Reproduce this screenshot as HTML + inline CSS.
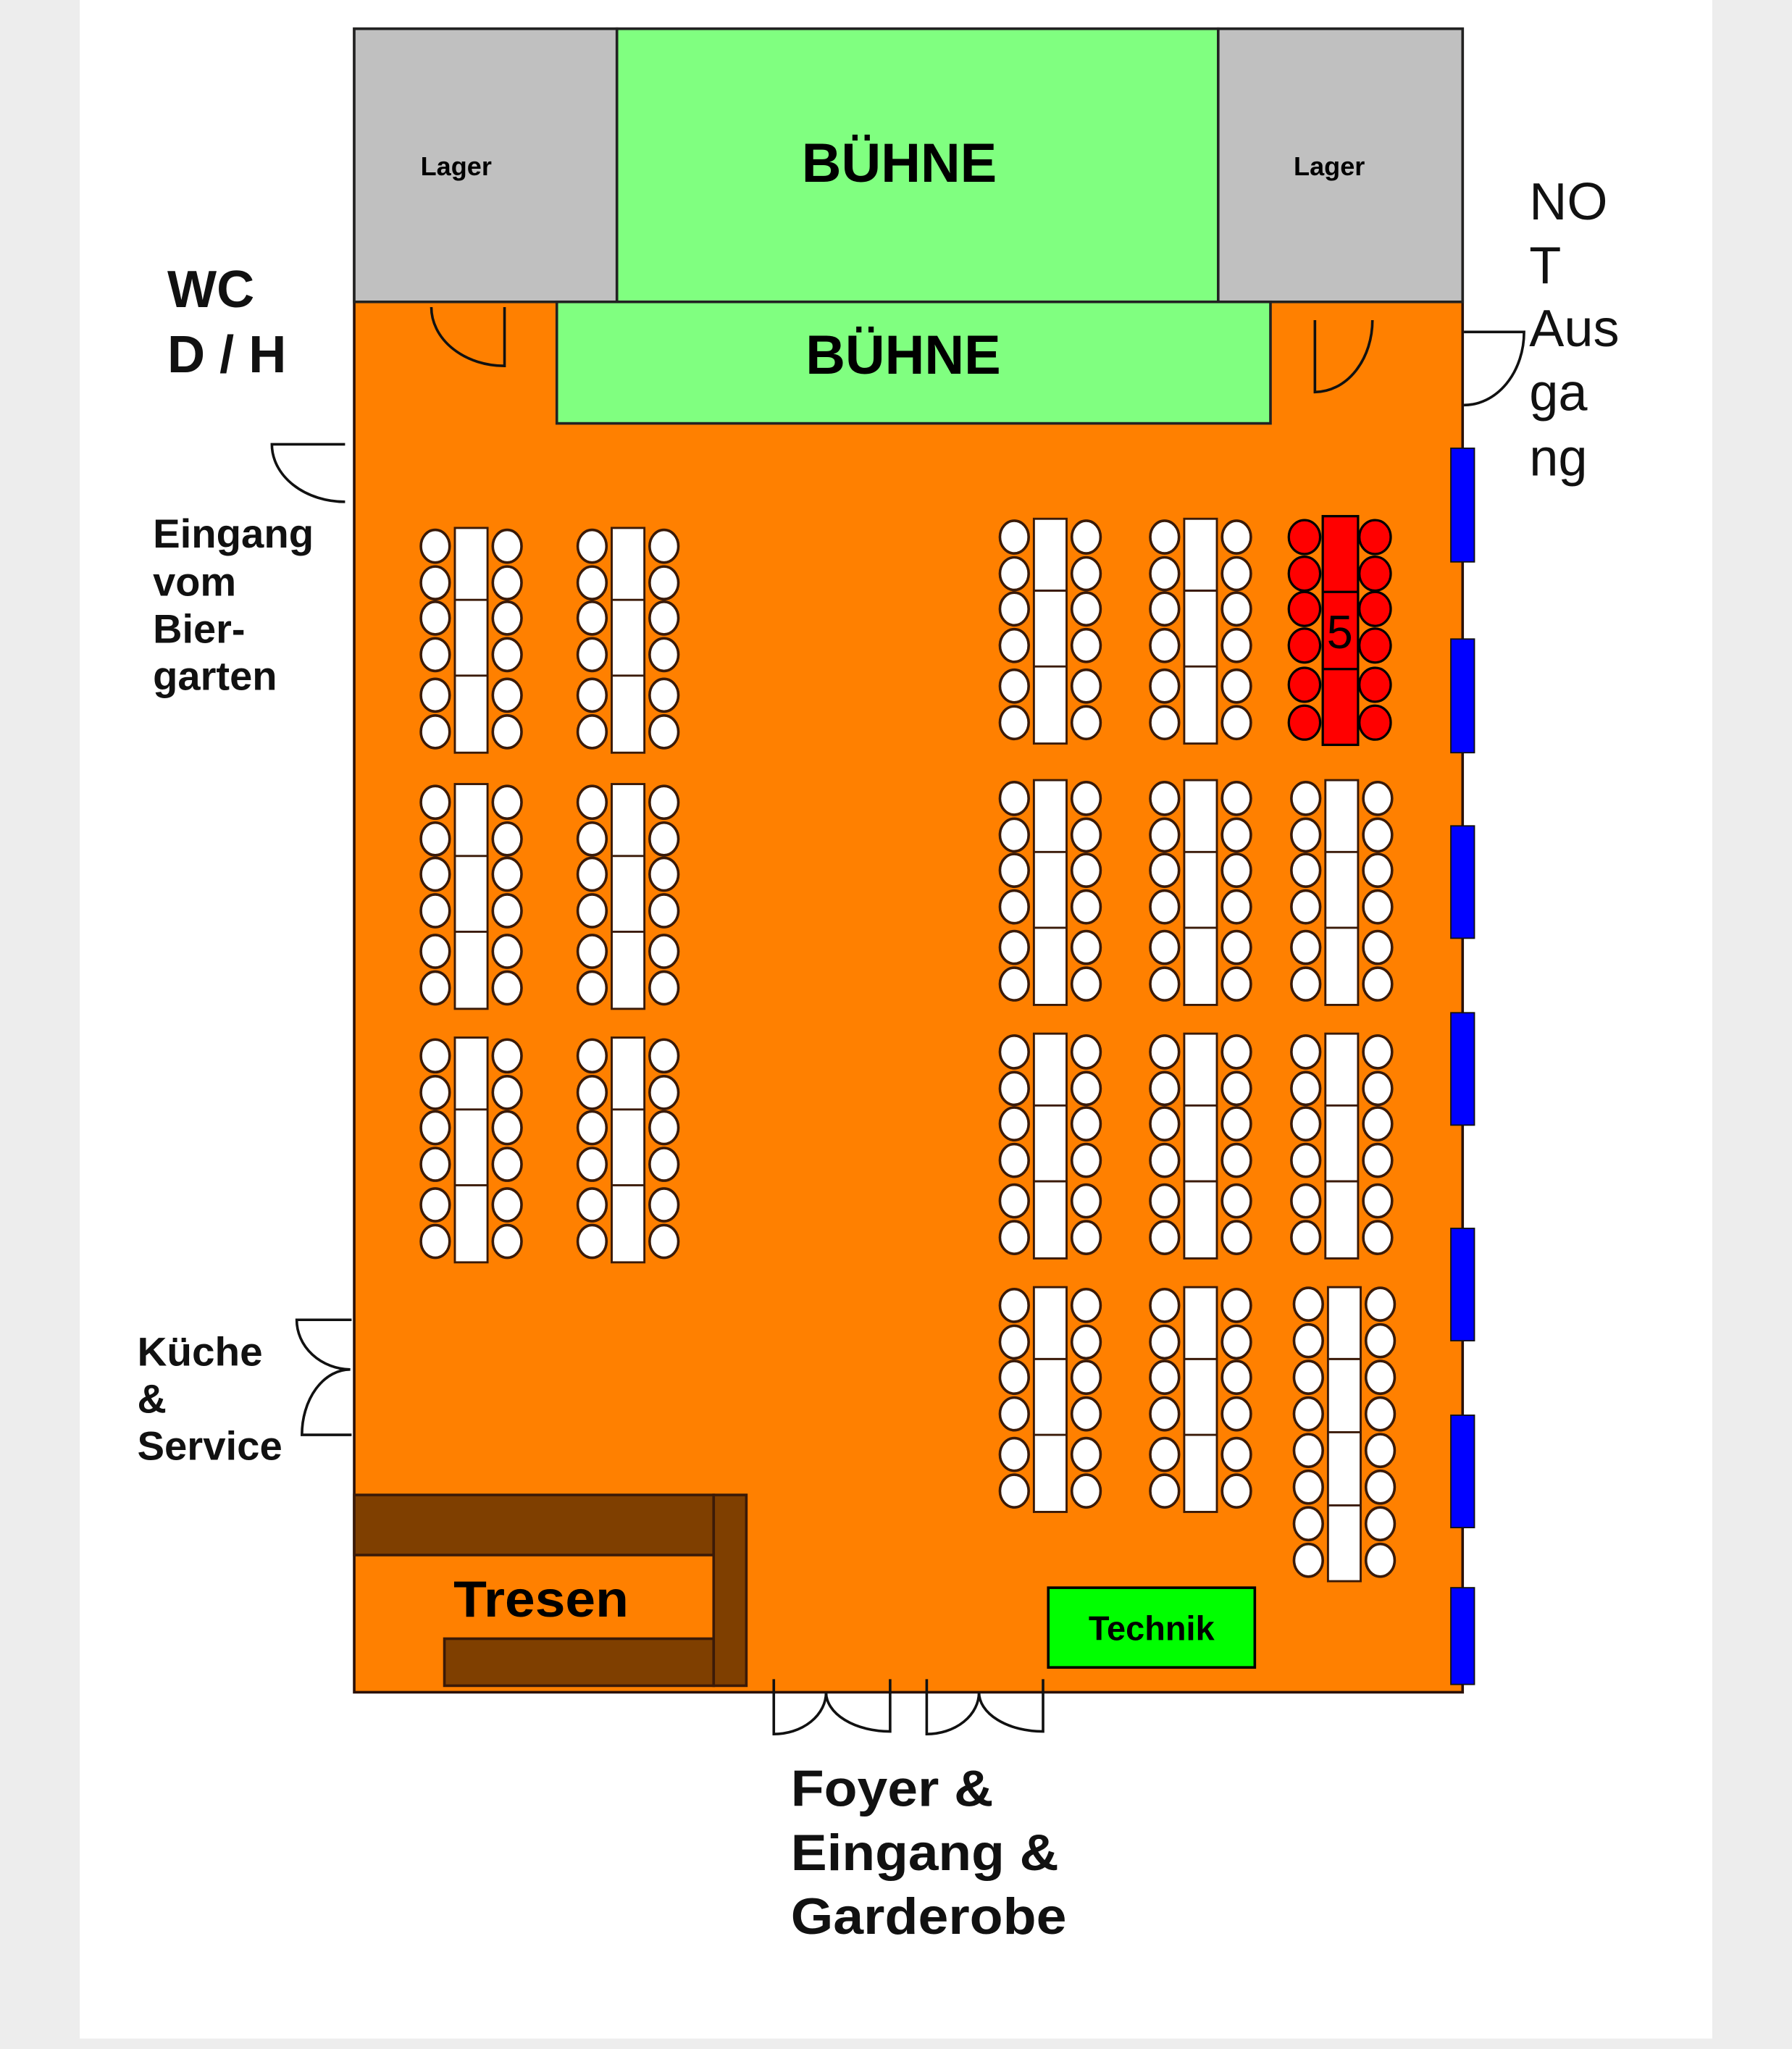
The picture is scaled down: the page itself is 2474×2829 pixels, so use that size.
<!DOCTYPE html>
<html><head><meta charset="utf-8"><style>
html,body{margin:0;padding:0;background:#fff}
svg{display:block}
text{font-family:"Liberation Sans",Arial,sans-serif}
</style></head><body>
<svg width="2474" height="2829" viewBox="0 0 1371 1568" preserveAspectRatio="none" xmlns="http://www.w3.org/2000/svg">
<defs>
<g id="t6">
  <rect x="15" y="0" width="25" height="172" fill="#fff" stroke="#3a1a08" stroke-width="1.6"/>
  <line x1="15" y1="55" x2="40" y2="55" stroke="#3a1a08" stroke-width="1.6"/>
  <line x1="15" y1="113" x2="40" y2="113" stroke="#3a1a08" stroke-width="1.6"/>
  <g fill="#fff" stroke="#3a1a08" stroke-width="2">
    <ellipse cx="0" cy="14" rx="11" ry="12.5"/><ellipse cx="55" cy="14" rx="11" ry="12.5"/>
    <ellipse cx="0" cy="42" rx="11" ry="12.5"/><ellipse cx="55" cy="42" rx="11" ry="12.5"/>
    <ellipse cx="0" cy="69" rx="11" ry="12.5"/><ellipse cx="55" cy="69" rx="11" ry="12.5"/>
    <ellipse cx="0" cy="97" rx="11" ry="12.5"/><ellipse cx="55" cy="97" rx="11" ry="12.5"/>
    <ellipse cx="0" cy="128" rx="11" ry="12.5"/><ellipse cx="55" cy="128" rx="11" ry="12.5"/>
    <ellipse cx="0" cy="156" rx="11" ry="12.5"/><ellipse cx="55" cy="156" rx="11" ry="12.5"/>
  </g>
</g>
</defs>
<rect x="0" y="0" width="1371" height="1568" fill="#ededed"/>
<rect x="61" y="0" width="1249" height="1560" fill="#fff"/>

<rect x="271" y="22" width="848" height="1273" fill="#ff8000" stroke="#2a1008" stroke-width="2"/>
<rect x="271" y="22" width="201" height="209" fill="#c0c0c0" stroke="#222" stroke-width="2"/>
<rect x="472" y="22" width="460" height="209" fill="#80ff80" stroke="#222" stroke-width="2"/>
<rect x="932" y="22" width="187" height="209" fill="#c0c0c0" stroke="#222" stroke-width="2"/>
<rect x="426" y="231" width="546" height="93" fill="#80ff80" stroke="#222" stroke-width="2"/>
<text x="688" y="139" font-size="42" font-weight="bold" text-anchor="middle">BÜHNE</text>
<text x="691" y="286" font-size="42" font-weight="bold" text-anchor="middle">BÜHNE</text>
<text x="349" y="134" font-size="20" font-weight="bold" text-anchor="middle">Lager</text>
<text x="1017" y="134" font-size="20" font-weight="bold" text-anchor="middle">Lager</text>

<g fill="none" stroke="#111" stroke-width="2">
  <path d="M386 235 V280 A56 45 0 0 1 330 235"/>
  <path d="M1006 245 V300 A44 55 0 0 0 1050 245"/>
  <path d="M1120 254 H1166 A46 56 0 0 1 1120 310"/>
  <path d="M264 340 H208 A56 44 0 0 0 264 384"/>
  <path d="M269 1010 H227 A42 38 0 0 0 268 1048 A37 50 0 0 0 231 1098 H269"/>
  <path d="M592 1285 V1327 A40 32 0 0 0 632 1295 A49 30 0 0 0 681 1325 V1285"/>
  <path d="M709 1285 V1327 A40 32 0 0 0 749 1295 A49 30 0 0 0 798 1325 V1285"/>
</g>

<g fill="#0000ff" stroke="#111" stroke-width="1">
  <rect x="1110" y="343" width="18" height="87"/>
  <rect x="1110" y="489" width="18" height="87"/>
  <rect x="1110" y="632" width="18" height="86"/>
  <rect x="1110" y="775" width="18" height="86"/>
  <rect x="1110" y="940" width="18" height="86"/>
  <rect x="1110" y="1083" width="18" height="86"/>
  <rect x="1110" y="1215" width="18" height="74"/>
</g>

<use href="#t6" transform="translate(333,404)"/>
<use href="#t6" transform="translate(453,404)"/>
<use href="#t6" transform="translate(333,600)"/>
<use href="#t6" transform="translate(453,600)"/>
<use href="#t6" transform="translate(333,794)"/>
<use href="#t6" transform="translate(453,794)"/>
<use href="#t6" transform="translate(776,397)"/>
<use href="#t6" transform="translate(891,397)"/>
<use href="#t6" transform="translate(776,597)"/>
<use href="#t6" transform="translate(891,597)"/>
<use href="#t6" transform="translate(999,597)"/>
<use href="#t6" transform="translate(776,791)"/>
<use href="#t6" transform="translate(891,791)"/>
<use href="#t6" transform="translate(999,791)"/>
<use href="#t6" transform="translate(776,985)"/>
<use href="#t6" transform="translate(891,985)"/>

<g>
  <rect x="1016" y="985" width="25" height="225" fill="#fff" stroke="#3a1a08" stroke-width="1.6"/>
  <line x1="1016" y1="1040" x2="1041" y2="1040" stroke="#3a1a08" stroke-width="1.6"/>
  <line x1="1016" y1="1096" x2="1041" y2="1096" stroke="#3a1a08" stroke-width="1.6"/>
  <line x1="1016" y1="1152" x2="1041" y2="1152" stroke="#3a1a08" stroke-width="1.6"/>
  <g fill="#fff" stroke="#3a1a08" stroke-width="2">
    <ellipse cx="1001" cy="998" rx="11" ry="12.5"/><ellipse cx="1056" cy="998" rx="11" ry="12.5"/>
    <ellipse cx="1001" cy="1026" rx="11" ry="12.5"/><ellipse cx="1056" cy="1026" rx="11" ry="12.5"/>
    <ellipse cx="1001" cy="1054" rx="11" ry="12.5"/><ellipse cx="1056" cy="1054" rx="11" ry="12.5"/>
    <ellipse cx="1001" cy="1082" rx="11" ry="12.5"/><ellipse cx="1056" cy="1082" rx="11" ry="12.5"/>
    <ellipse cx="1001" cy="1110" rx="11" ry="12.5"/><ellipse cx="1056" cy="1110" rx="11" ry="12.5"/>
    <ellipse cx="1001" cy="1138" rx="11" ry="12.5"/><ellipse cx="1056" cy="1138" rx="11" ry="12.5"/>
    <ellipse cx="1001" cy="1166" rx="11" ry="12.5"/><ellipse cx="1056" cy="1166" rx="11" ry="12.5"/>
    <ellipse cx="1001" cy="1194" rx="11" ry="12.5"/><ellipse cx="1056" cy="1194" rx="11" ry="12.5"/>
  </g>
</g>

<g stroke="#000" stroke-width="1.8">
  <rect x="1012" y="395" width="27" height="175" fill="#ff0000"/>
  <line x1="1012" y1="453" x2="1039" y2="453"/>
  <line x1="1012" y1="512" x2="1039" y2="512"/>
  <g fill="#ff0000">
    <ellipse cx="998" cy="411" rx="12" ry="13"/><ellipse cx="1052" cy="411" rx="12" ry="13"/>
    <ellipse cx="998" cy="439" rx="12" ry="13"/><ellipse cx="1052" cy="439" rx="12" ry="13"/>
    <ellipse cx="998" cy="466" rx="12" ry="13"/><ellipse cx="1052" cy="466" rx="12" ry="13"/>
    <ellipse cx="998" cy="494" rx="12" ry="13"/><ellipse cx="1052" cy="494" rx="12" ry="13"/>
    <ellipse cx="998" cy="524" rx="12" ry="13"/><ellipse cx="1052" cy="524" rx="12" ry="13"/>
    <ellipse cx="998" cy="553" rx="12" ry="13"/><ellipse cx="1052" cy="553" rx="12" ry="13"/>
  </g>
</g>
<text x="1025" y="496" font-size="36" text-anchor="middle">5</text>

<g fill="#7f3f00" stroke="#3a1a08" stroke-width="2">
  <rect x="271" y="1144" width="275" height="46"/>
  <rect x="340" y="1254" width="206" height="36"/>
  <rect x="546" y="1144" width="25" height="146"/>
</g>
<text x="347" y="1237" font-size="39" font-weight="bold" textLength="134" lengthAdjust="spacingAndGlyphs">Tresen</text>

<rect x="802" y="1215" width="158" height="61" fill="#00ff00" stroke="#000" stroke-width="2"/>
<text x="881" y="1255" font-size="26" font-weight="bold" text-anchor="middle">Technik</text>

<g font-weight="bold" fill="#111">
  <text x="128" y="235" font-size="40">WC</text>
  <text x="128" y="285" font-size="40">D / H</text>
  <text x="117" y="419" font-size="31" textLength="123" lengthAdjust="spacingAndGlyphs">Eingang</text>
  <text x="117" y="456" font-size="31">vom</text>
  <text x="117" y="492" font-size="31">Bier-</text>
  <text x="117" y="528" font-size="31" textLength="95" lengthAdjust="spacingAndGlyphs">garten</text>
  <text x="105" y="1045" font-size="31" textLength="96" lengthAdjust="spacingAndGlyphs">Küche</text>
  <text x="105" y="1081" font-size="31">&amp;</text>
  <text x="105" y="1117" font-size="31" textLength="111" lengthAdjust="spacingAndGlyphs">Service</text>
  <text x="605" y="1382" font-size="39" textLength="155" lengthAdjust="spacingAndGlyphs">Foyer &amp;</text>
  <text x="605" y="1431" font-size="39" textLength="205" lengthAdjust="spacingAndGlyphs">Eingang &amp;</text>
  <text x="605" y="1480" font-size="39" textLength="211" lengthAdjust="spacingAndGlyphs">Garderobe</text>
</g>
<g font-size="40" fill="#111">
  <text x="1170" y="168">NO</text>
  <text x="1170" y="217">T</text>
  <text x="1170" y="265">Aus</text>
  <text x="1170" y="314">ga</text>
  <text x="1170" y="364">ng</text>
</g>
</svg>
</body></html>
